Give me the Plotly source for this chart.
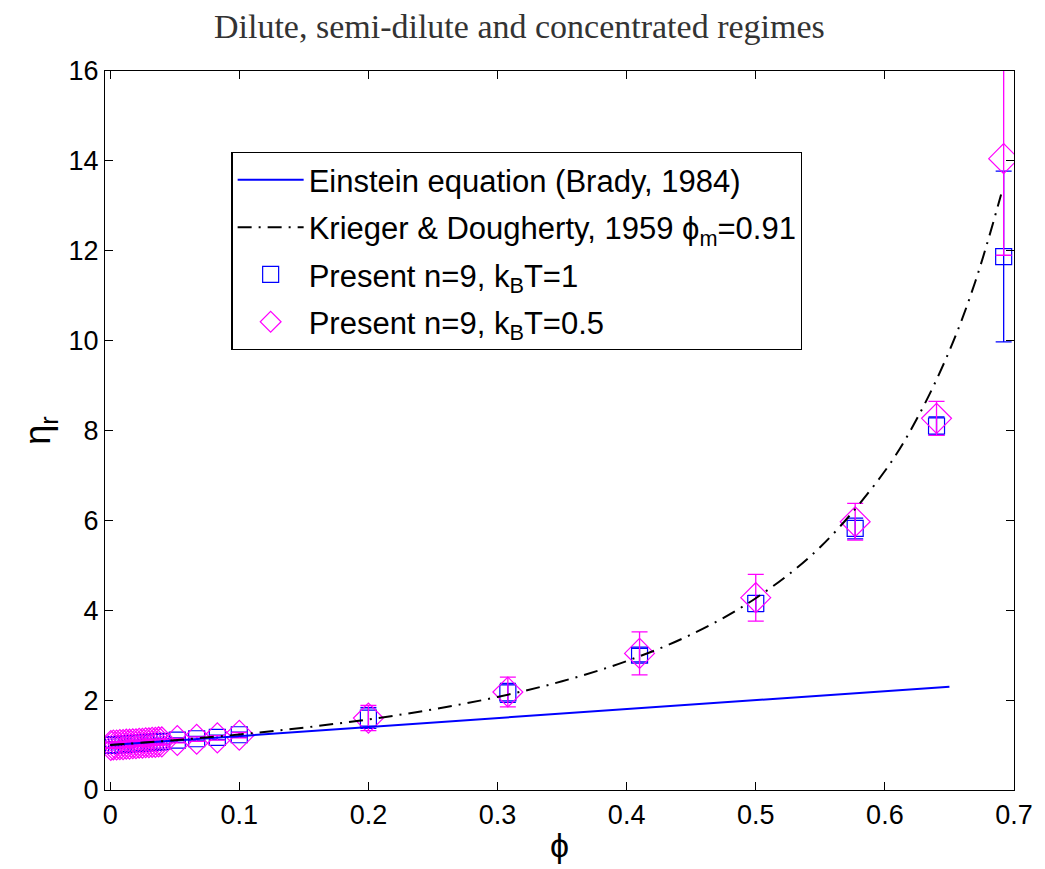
import plotly.graph_objects as go

# Data
phi_sq = [0.0005, 0.0025, 0.005, 0.0075, 0.01, 0.0125, 0.015, 0.0175, 0.02, 0.0225,
          0.025, 0.0275, 0.03, 0.0325, 0.035, 0.0375, 0.04,
          0.052, 0.067, 0.083, 0.1, 0.2, 0.308, 0.41, 0.5, 0.577, 0.64, 0.692]
eta_sq = [1.00, 1.00, 1.01, 1.01, 1.02, 1.02, 1.03, 1.03, 1.04, 1.04,
          1.05, 1.05, 1.06, 1.06, 1.07, 1.07, 1.08,
          1.11, 1.14, 1.17, 1.23, 1.60, 2.16, 3.00, 4.15, 5.82, 8.10, 11.87]
err_sq = [0.06] * 17 + [0.05, 0.05, 0.05, 0.06, 0.23, 0.21, 0.15, 0.18, 0.23, 0.20, 1.90]

phi_di = phi_sq
eta_di = [0.99, 1.00, 1.00, 1.01, 1.01, 1.02, 1.02, 1.03, 1.03, 1.04,
          1.04, 1.05, 1.05, 1.06, 1.06, 1.07, 1.07,
          1.10, 1.13, 1.16, 1.22, 1.60, 2.18, 3.04, 4.28, 5.97, 8.27, 14.05]
err_di = [0.06] * 17 + [0.05, 0.05, 0.05, 0.06, 0.28, 0.33, 0.48, 0.52, 0.41, 0.38, 2.15]

phi_ein = [0.0, 0.65]
eta_ein = [1.0, 2.3]

phi_kd = [0.0, 0.05, 0.1, 0.15, 0.2, 0.25, 0.3, 0.35, 0.4, 0.45, 0.5, 0.55, 0.6, 0.625, 0.65, 0.67, 0.69]
eta_kd = [1.0, 1.108, 1.236, 1.388, 1.571, 1.794, 2.071, 2.420, 2.869, 3.461, 4.268, 5.408,
          7.098, 8.272, 9.777, 11.31, 13.25]

x_ticks = [0, 0.1, 0.2, 0.3, 0.4, 0.5, 0.6, 0.7]
y_ticks = [0, 2, 4, 6, 8, 10, 12, 14, 16]

BLUE = "#0000ff"
MAG = "#ff00ff"
FONT = "Liberation Sans, Arial, sans-serif"

fig = go.Figure()
fig.add_trace(go.Scatter(
    x=phi_sq, y=eta_sq, mode="markers", name="Present n=9, k<sub>B</sub>T=1",
    marker=dict(symbol="square-open", size=16, color=BLUE, line=dict(width=1.2, color=BLUE)),
    error_y=dict(type="data", array=err_sq, color=BLUE, thickness=1.3, width=8),
    legendrank=3, legendgroup="c"))
fig.add_trace(go.Scatter(
    x=phi_di, y=eta_di, mode="markers", name="Present n=9, k<sub>B</sub>T=0.5",
    marker=dict(symbol="diamond-open", size=23, color=MAG, line=dict(width=1.2, color=MAG)),
    error_y=dict(type="data", array=err_di, color=MAG, thickness=1.3, width=8),
    legendrank=4, legendgroup="d"))
fig.add_trace(go.Scatter(
    x=phi_ein, y=eta_ein, mode="lines", name="Einstein equation (Brady, 1984)",
    line=dict(color=BLUE, width=2), legendrank=1, legendgroup="a"))
fig.add_trace(go.Scatter(
    x=phi_kd, y=eta_kd, mode="lines", name="Krieger &amp; Dougherty, 1959 ϕ<sub>m</sub>=0.91",
    line=dict(color="black", width=2, dash="14px,7px,2px,7px", shape="spline"),
    legendrank=2, legendgroup="b"))

axis_common = dict(
    showline=True, linecolor="black", linewidth=1.2, mirror="allticks",
    ticks="inside", ticklen=8, tickwidth=1, tickcolor="black",
    showgrid=False, zeroline=False,
    tickfont=dict(family=FONT, size=27, color="black"),
)

fig.update_layout(
    width=1045, height=869,
    paper_bgcolor="white", plot_bgcolor="white",
    margin=dict(l=105, r=27, t=71, b=79),
    title=dict(text="Dilute, semi-dilute and concentrated regimes",
               font=dict(family="Liberation Serif, DejaVu Serif, serif", size=34, color="#333333"),
               x=0.497, xref="container", xanchor="center",
               y=1 - 26 / 869, yref="container", yanchor="middle"),
    xaxis=dict(range=[-0.004, 0.7], tickvals=x_ticks, ticktext=[str(v) for v in x_ticks],
               title=dict(text="ϕ", font=dict(family=FONT, size=34, color="black"), standoff=4),
               **axis_common),
    yaxis=dict(range=[0, 16], tickvals=y_ticks,
               title=dict(text="η<sub>r</sub>", font=dict(family=FONT, size=36, color="black"), standoff=6),
               **axis_common),
    legend=dict(x=(232 - 105) / 913, y=(790 - 152) / 719, xanchor="left", yanchor="top",
                bgcolor="white", bordercolor="black", borderwidth=1.2,
                font=dict(family=FONT, size=31, color="black"),
                itemwidth=66, traceorder="grouped", tracegroupgap=4),
    showlegend=True,
)

fig.write_html("out.html")
